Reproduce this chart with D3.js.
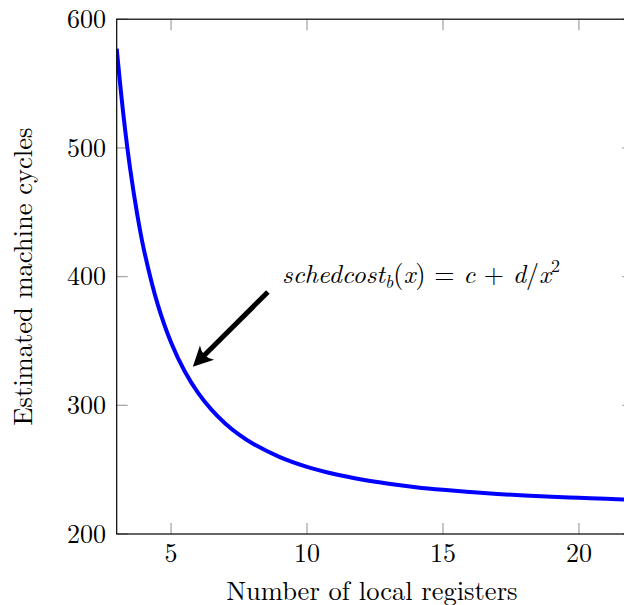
<!DOCTYPE html>
<html lang="en">
<head>
<meta charset="utf-8">
<title>Scheduling cost vs registers</title>
<style>
body { margin: 0; background: #fff; }
svg { display: block; overflow: hidden; }
</style>
</head>
<body>
<div id="chartID"></div>
<script src="https://d3js.org/d3.v7.min.js"></script>
<script>
// values
var registers = [3, 3.25, 3.5, 3.75, 4, 4.5, 5, 5.5, 6, 6.5, 7, 7.5, 8, 9, 10, 11, 12, 13, 14, 15, 16, 17, 18, 19, 20, 21, 22];
var cycles = [577, 525, 483, 449, 421, 379, 348.8, 326.4, 309.4, 296.2, 285.7, 277.2, 270.3, 259.8, 252.2, 246.6, 242.4, 239.1, 236.4, 234.3, 232.6, 231.1, 229.9, 228.9, 228.1, 227.3, 226.7];
var xTicks = [5, 10, 15, 20];
var yTicks = [200, 300, 400, 500, 600];

// annotation in data coordinates
var arrowFrom = [8.56, 388];
var arrowTo = [5.8, 330];
var notePos = [9.08, 395];

var FONT = "'Latin Modern Roman', 'Liberation Serif', serif";

var svg = d3.select("#chartID")
    .append("svg").attr("width", 624).attr("height", 605);

var plotL = 116.7, plotR = 633.3, plotT = 19.2, plotB = 534;

var x = d3.scaleLinear().domain([3, 22]).range([plotL, plotR]);
var y = d3.scaleLinear().domain([200, 600]).range([plotB, plotT]);

var data = registers.map(function(r, i) { return {x: r, y: cycles[i]}; });

svg.append("defs").append("clipPath").attr("id", "plotclip")
    .append("rect").attr("x", plotL).attr("y", plotT)
    .attr("width", plotR - plotL).attr("height", plotB - plotT);

// ticks (inward, grey) on all four sides
var tickLen = 11;
var tickColor = "#a8a8a8";
var gt = svg.append("g").attr("stroke", tickColor).attr("stroke-width", 1.3);
xTicks.forEach(function(t) {
    gt.append("line").attr("x1", x(t)).attr("x2", x(t)).attr("y1", plotB).attr("y2", plotB - tickLen);
    gt.append("line").attr("x1", x(t)).attr("x2", x(t)).attr("y1", plotT).attr("y2", plotT + tickLen);
});
yTicks.forEach(function(t) {
    gt.append("line").attr("y1", y(t)).attr("y2", y(t)).attr("x1", plotL).attr("x2", plotL + tickLen);
    gt.append("line").attr("y1", y(t)).attr("y2", y(t)).attr("x1", plotR).attr("x2", plotR - tickLen);
});

// the curve
var line = d3.line()
    .x(function(d) { return x(d.x); })
    .y(function(d) { return y(d.y); })
    .curve(d3.curveCatmullRom.alpha(0.5));

svg.append("path")
    .datum(data)
    .attr("clip-path", "url(#plotclip)")
    .attr("fill", "none")
    .attr("stroke", "#0000ff")
    .attr("stroke-width", 4)
    .attr("d", line);

// frame
svg.append("rect")
    .attr("x", plotL).attr("y", plotT)
    .attr("width", plotR - plotL).attr("height", plotB - plotT)
    .attr("fill", "none").attr("stroke", "#000").attr("stroke-width", 1.2);

// tick labels
svg.selectAll(".xtl")
    .data(xTicks)
    .enter()
    .append("text")
    .style("font-family", FONT).style("font-size", "26px")
    .attr("x", function(d) { return x(d); })
    .attr("y", 562)
    .attr("text-anchor", "middle")
    .text(function(d) { return d; });

svg.selectAll(".ytl")
    .data(yTicks)
    .enter()
    .append("text")
    .style("font-family", FONT).style("font-size", "26px")
    .attr("x", 106)
    .attr("y", function(d) { return y(d); })
    .attr("dy", "0.34em")
    .attr("text-anchor", "end")
    .text(function(d) { return d; });

// axis labels
svg.append("text")
    .style("font-family", FONT).style("font-size", "26.5px")
    .attr("x", (plotL + 627) / 2)
    .attr("y", 600)
    .attr("text-anchor", "middle")
    .text("Number of local registers");

svg.append("text")
    .style("font-family", FONT).style("font-size", "26.5px")
    .attr("transform", "translate(32," + ((plotT + plotB) / 2) + ") rotate(-90)")
    .attr("text-anchor", "middle")
    .text("Estimated machine cycles");

// arrow
var x0 = x(arrowFrom[0]), y0 = y(arrowFrom[1]);
var x1 = x(arrowTo[0]), y1 = y(arrowTo[1]);
var ang = Math.atan2(y1 - y0, x1 - x0);
var headLen = 20, headW = 10;
var ux = Math.cos(ang), uy = Math.sin(ang);
var bx = x1 - ux * headLen, by = y1 - uy * headLen;

svg.append("line")
    .attr("x1", x0).attr("y1", y0)
    .attr("x2", x1 - ux * 12).attr("y2", y1 - uy * 12)
    .attr("stroke", "#000").attr("stroke-width", 5);

svg.append("path")
    .attr("fill", "#000")
    .attr("d", "M" + x1 + "," + y1 +
        "L" + (bx - uy * headW) + "," + (by + ux * headW) +
        "Q" + (x1 - ux * 13) + "," + (y1 - uy * 13) + " " + (bx + uy * headW) + "," + (by - ux * headW) +
        "Z");

// formula annotation
var note = svg.append("text")
    .style("font-family", FONT).style("font-size", "26px")
    .attr("x", x(notePos[0]))
    .attr("y", y(notePos[1]))
    .attr("textLength", 278)
    .attr("lengthAdjust", "spacingAndGlyphs");
note.append("tspan").style("font-style", "italic").text("schedcost");
note.append("tspan").style("font-style", "italic").style("font-size", "18px").attr("dy", 5).text("b");
note.append("tspan").attr("dy", -5).text("(");
note.append("tspan").style("font-style", "italic").text("x");
note.append("tspan").text(") = ");
note.append("tspan").style("font-style", "italic").text("c");
note.append("tspan").text(" + ");
note.append("tspan").style("font-style", "italic").text("d");
note.append("tspan").text("/");
note.append("tspan").style("font-style", "italic").text("x");
note.append("tspan").style("font-size", "18px").attr("dy", -11).text("2");
</script>
</body>
</html>
